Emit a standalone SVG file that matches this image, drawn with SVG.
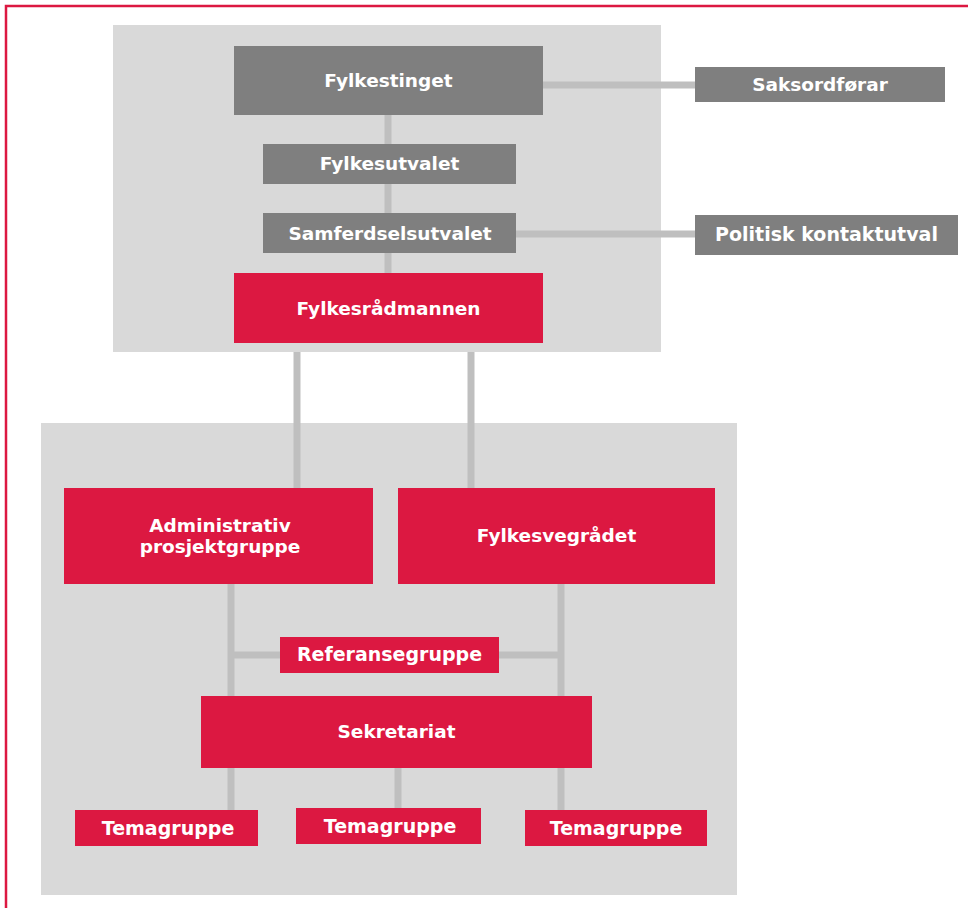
<svg xmlns="http://www.w3.org/2000/svg" width="968" height="908" viewBox="0 0 968 908">
<style>
.panel{fill:#d9d9d9}
.g{fill:#7f7f7f}
.r{fill:#dc1841}
.t{fill:#ffffff;font-family:"DejaVu Sans",Verdana,sans-serif;font-weight:bold;font-size:18.5px;text-anchor:middle}
.w{font-size:19px}
.c{stroke:#bfbfbf;stroke-width:7;fill:none}
.b{stroke:#dc1841;stroke-width:2.5;fill:none}
</style>
<rect width="968" height="908" fill="#ffffff"/>
<path class="b" d="M6,908 V6 H968"/>
<rect class="panel" x="113" y="25" width="548" height="327"/>
<rect class="panel" x="41" y="423" width="696" height="472"/>
<g id="connectors">
<line class="c" x1="543" y1="85" x2="695" y2="85"/>
<line class="c" x1="388" y1="115" x2="388" y2="273"/>
<line class="c" x1="516" y1="234" x2="695" y2="234"/>
<line class="c" x1="297" y1="352" x2="297" y2="488"/>
<line class="c" x1="471" y1="352" x2="471" y2="488"/>
<line class="c" x1="231" y1="584" x2="231" y2="696"/>
<line class="c" x1="561" y1="584" x2="561" y2="696"/>
<line class="c" x1="231" y1="655" x2="280" y2="655"/>
<line class="c" x1="499" y1="655" x2="561" y2="655"/>
<line class="c" x1="231" y1="768" x2="231" y2="810"/>
<line class="c" x1="398" y1="768" x2="398" y2="808"/>
<line class="c" x1="561" y1="768" x2="561" y2="810"/>
</g>
<g id="fylkestinget"><rect class="g" x="234" y="46" width="309" height="69"/><text class="t" x="388.5" y="87">Fylkestinget</text></g>
<g id="saksordforar"><rect class="g" x="695" y="67" width="250" height="35"/><text class="t" x="820" y="91">Saksordførar</text></g>
<g id="fylkesutvalet"><rect class="g" x="263" y="144" width="253" height="40"/><text class="t" x="389.5" y="170">Fylkesutvalet</text></g>
<g id="samferdselsutvalet"><rect class="g" x="263" y="213" width="253" height="40"/><text class="t" x="390" y="240">Samferdselsutvalet</text></g>
<g id="politisk"><rect class="g" x="695" y="215" width="263" height="40"/><text class="t w" x="826.5" y="241">Politisk kontaktutval</text></g>
<g id="fylkesradmannen"><rect class="r" x="234" y="273" width="309" height="70"/><text class="t" x="388.5" y="315">Fylkesrådmannen</text></g>
<g id="admin"><rect class="r" x="64" y="488" width="309" height="96"/><text class="t" x="220" y="532">Administrativ</text><text class="t" x="220" y="553">prosjektgruppe</text></g>
<g id="fylkesvegradet"><rect class="r" x="398" y="488" width="317" height="96"/><text class="t" x="556.5" y="542">Fylkesvegrådet</text></g>
<g id="referansegruppe"><rect class="r" x="280" y="637" width="219" height="36"/><text class="t w" x="389.5" y="661">Referansegruppe</text></g>
<g id="sekretariat"><rect class="r" x="201" y="696" width="391" height="72"/><text class="t" x="396.5" y="738">Sekretariat</text></g>
<g id="tema1"><rect class="r" x="75" y="810" width="183" height="36"/><text class="t w" x="168" y="835">Temagruppe</text></g>
<g id="tema2"><rect class="r" x="296" y="808" width="185" height="36"/><text class="t w" x="390" y="833">Temagruppe</text></g>
<g id="tema3"><rect class="r" x="525" y="810" width="182" height="36"/><text class="t w" x="616" y="835">Temagruppe</text></g>
</svg>
